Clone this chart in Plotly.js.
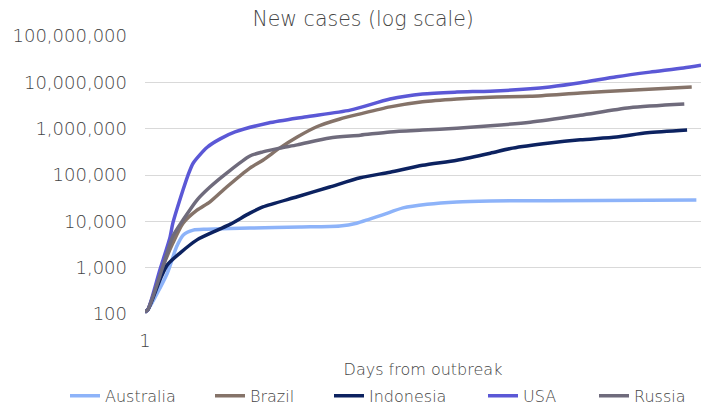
<!DOCTYPE html>
<html>
<head>
<meta charset="utf-8">
<script src="https://cdn.plot.ly/plotly-3.0.1.min.js"></script>
<style>html,body{margin:0;padding:0;background:#fff;}#chart{width:701px;height:408px;}</style>
</head>
<body>
<div id="chart"></div>
<script>
// ---- Data ----
const seriesNames = ["Australia", "Brazil", "Indonesia", "USA", "Russia"];

const australiaDays  = [1, 4, 25, 35, 42, 53, 68, 114, 168, 211, 229, 243, 257, 279, 305, 337, 373, 491, 595];
const australiaCases = [110, 123, 760, 2820, 5010, 6460, 6760, 7180, 7540, 7940, 9120, 11200, 13800, 19500, 23400, 26300, 27500, 28200, 28800];

const brazilDays  = [1, 4, 20, 31, 42, 57, 71, 89, 114, 128, 146, 165, 186, 211, 233, 265, 300, 337, 373, 416, 470, 523, 590];
const brazilCases = [110, 123, 1020, 3390, 9120, 17400, 26300, 55000, 141000, 209000, 380000, 661000, 1100000, 1620000, 2090000, 2950000, 3800000, 4370000, 4790000, 5010000, 5890000, 6760000, 7940000];

const indonesiaDays  = [1, 4, 17, 25, 39, 57, 79, 93, 114, 128, 165, 200, 233, 265, 300, 337, 373, 397, 437, 470, 509, 542, 585];
const indonesiaCases = [110, 123, 537, 1150, 2090, 3980, 6460, 8700, 15000, 20400, 33900, 55000, 87100, 115000, 162000, 209000, 295000, 380000, 490000, 575000, 661000, 813000, 933000];

const usaDays  = [1, 4, 17, 28, 31, 42, 47, 53, 68, 82, 98, 134, 173, 222, 265, 300, 337, 373, 416, 437, 470, 509, 545, 581, 600];
const usaCases = [110, 123, 890, 4570, 9120, 47900, 95000, 182000, 398000, 603000, 851000, 1320000, 1780000, 2510000, 4370000, 5620000, 6170000, 6460000, 7240000, 7940000, 9770000, 13200000, 16600000, 20400000, 23400000];

const russiaDays  = [1, 4, 20, 31, 42, 57, 71, 89, 114, 128, 146, 165, 200, 233, 265, 300, 337, 373, 416, 470, 523, 582];
const russiaCases = [110, 123, 1020, 4790, 10700, 28800, 55000, 110000, 257000, 316000, 380000, 447000, 631000, 724000, 851000, 933000, 1020000, 1150000, 1380000, 1950000, 2820000, 3390000];

const yTickVals = [100, 1000, 10000, 100000, 1000000, 10000000, 100000000];
const yTickText = ["100", "1,000", "10,000", "100,000", "1,000,000", "10,000,000", "100,000,000"];
const xTickVals = [1];
const xTickText = ["1"];

// ---- Styling ----
const colors = ["#8DB3F9", "#857369", "#0C2260", "#5B58D6", "#6F6B7C"];
const FONT = "DejaVu Sans, sans-serif";
const TXT = "#454545";
const W = 701;
// left edge (px) of each legend entry
const legendLeft = [65, 210, 329, 483, 594];
const legendIds = ["legend", "legend2", "legend3", "legend4", "legend5"];

const xs = [australiaDays, brazilDays, indonesiaDays, usaDays, russiaDays];
const ys = [australiaCases, brazilCases, indonesiaCases, usaCases, russiaCases];

const traces = seriesNames.map((n, i) => ({
  type: "scatter",
  mode: "lines",
  name: n,
  x: xs[i],
  y: ys[i],
  legend: legendIds[i],
  line: {color: colors[i], width: 3.5, shape: "spline", smoothing: 0.7},
  hoverinfo: "skip"
}));

const layout = {
  width: 701, height: 408,
  margin: {l: 145, r: 0, t: 36, b: 94, pad: 0},
  paper_bgcolor: "#ffffff", plot_bgcolor: "#ffffff",
  font: {family: FONT, color: TXT, size: 16, weight: 300},
  title: {text: "New cases (log scale)", font: {family: FONT, size: 20.5, color: TXT, weight: 300},
          x: 0.518, xref: "container", xanchor: "center", y: 0.953, yref: "container", yanchor: "middle"},
  xaxis: {
    range: [1, 600], showgrid: false, zeroline: false, showline: false,
    tickvals: xTickVals, ticktext: xTickText, ticks: "", ticklabelstandoff: 14,
    tickfont: {family: FONT, size: 18, color: TXT, weight: 300},
    title: {text: "Days from outbreak", font: {family: FONT, size: 16, color: TXT, weight: 300}, standoff: 14}
  },
  yaxis: {
    type: "log", range: [2, 8], showgrid: true, gridcolor: "#D9D9D9", gridwidth: 1,
    zeroline: false, showline: false, ticks: "",
    tickvals: yTickVals, ticktext: yTickText, ticklabelstandoff: 17,
    tickfont: {family: FONT, size: 18, color: TXT, weight: 300}
  },
  showlegend: true
};

legendIds.forEach((id, i) => {
  layout[id] = {
    orientation: "h", x: legendLeft[i] / W, xref: "container", xanchor: "left",
    y: 0.03, yref: "container", yanchor: "middle",
    font: {family: FONT, size: 16, color: TXT, weight: 300}, itemwidth: 30,
    bgcolor: "rgba(0,0,0,0)", borderwidth: 0
  };
});

Plotly.newPlot("chart", traces, layout, {displayModeBar: false, staticPlot: true});
</script>
</body>
</html>
